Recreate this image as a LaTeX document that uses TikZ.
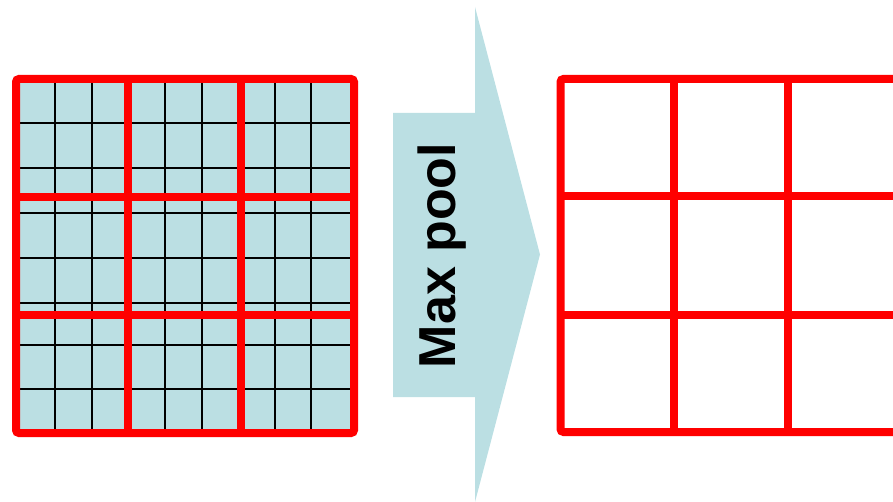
\documentclass[tikz,border=0pt]{standalone}
\usepackage{fontspec}
\setmainfont{Liberation Sans}
\usetikzlibrary{positioning}
\definecolor{Pool}{HTML}{BBDFE3}
\definecolor{Grid}{HTML}{FF0000}

\begin{document}
\begin{tikzpicture}[x=1pt,y=-1pt,
    fineline/.style={black,line width=2.6pt},
    coarse/.style={Grid,line width=8pt},
    frame/.style={coarse,rounded corners=3pt}]
  \useasboundingbox (0,0) rectangle (893,502);
  \clip (0,0) rectangle (893,502);
  % input feature map
  \fill[Pool] (16,79) rectangle (354,433);
  \foreach \x in {55,92,165,202,275,311}\draw[fineline] (\x,79)--(\x,433);
  \foreach \y in {123,168,213,258,303,345,389}\draw[fineline] (16,\y)--(354,\y);
  \foreach \x in {128,240.5}\draw[coarse] (\x,79)--(\x,433);
  \foreach \y in {197,315}\draw[coarse] (16,\y)--(354,\y);
  \draw[frame] (16,79) rectangle (354,433);
  % pooling arrow
  \fill[Pool] (393,113)--(475,113)--(475,7)--(540,254.5)--(475,502)--(475,397)--(393,397)--cycle;
  \node[rotate=90,anchor=base,inner sep=0pt,font=\bfseries\fontsize{52}{52}\selectfont] (pool) at (455,255.5) {Max pool};
  % pooled map
  \foreach \x in {674,787.5}\draw[coarse] (\x,79)--(\x,432);
  \foreach \y in {196,315}\draw[coarse] (560.5,\y)--(901,\y);
  \draw[frame] (560.5,79) rectangle (901,432);
\end{tikzpicture}
\end{document}
